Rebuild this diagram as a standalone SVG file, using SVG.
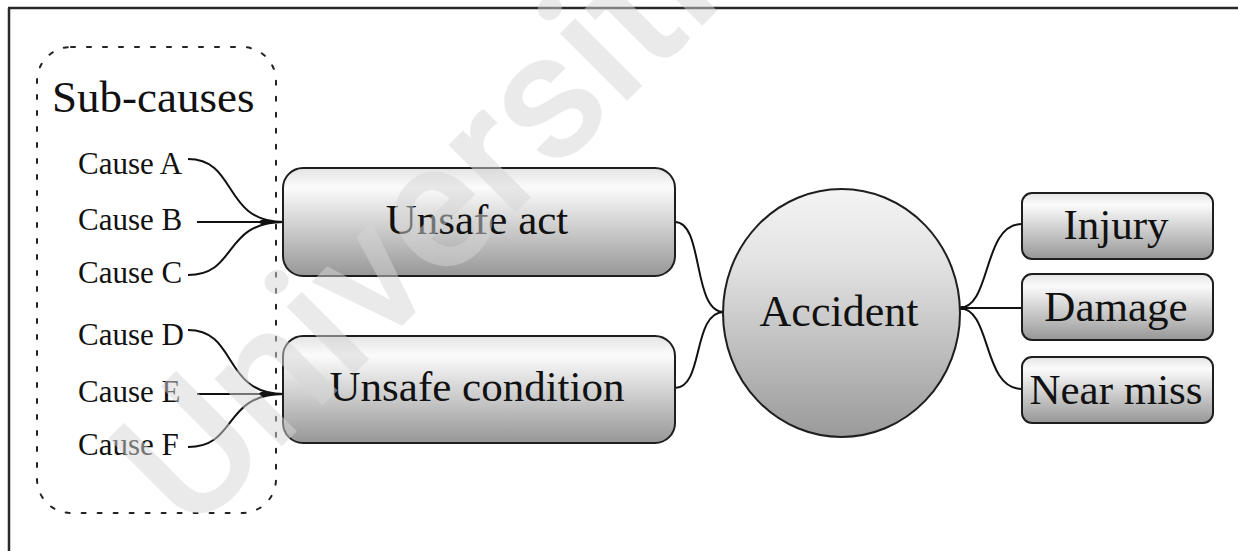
<svg xmlns="http://www.w3.org/2000/svg" width="1238" height="551" viewBox="0 0 1238 551">
  <defs>
    <linearGradient id="shade" x1="0" y1="0" x2="0" y2="1">
      <stop offset="0" stop-color="#e4e4e4"/>
      <stop offset="0.18" stop-color="#fbfbfb"/>
      <stop offset="1" stop-color="#979797"/>
    </linearGradient>
    <linearGradient id="shade-round" x1="0" y1="0" x2="0" y2="1">
      <stop offset="0" stop-color="#f4f4f4"/>
      <stop offset="0.3" stop-color="#e2e2e2"/>
      <stop offset="1" stop-color="#9a9a9a"/>
    </linearGradient>
    <style>
      .frame { stroke: #2a2a2a; stroke-width: 2.5; fill: none; }
      .group { fill: none; stroke: #222; stroke-width: 2; stroke-dasharray: 4 12; stroke-linecap: round; }
      .box { fill: url(#shade); stroke: #1e1e1e; stroke-width: 2; }
      .round { fill: url(#shade-round); stroke: #1e1e1e; stroke-width: 2; }
      .link { fill: none; stroke: #111; stroke-width: 2; }
      .knot { fill: #111; }
      .big { font-family: "Liberation Serif", "Times New Roman", serif; font-size: 43px; fill: #111; text-anchor: middle; }
      .cause { font-family: "Liberation Serif", "Times New Roman", serif; font-size: 31px; fill: #111; }
      .title { font-family: "Liberation Serif", "Times New Roman", serif; font-size: 45px; fill: #111; }
      .mark { font-family: Roboto, "Open Sans", sans-serif; font-size: 180px; font-weight: 500; fill: #d6d6d6; opacity: 0.5; }
    </style>
  </defs>

  <rect width="1238" height="551" fill="#fff"/>

  <!-- page frame: top and left rules -->
  <line class="frame" x1="8" y1="8" x2="1238" y2="8"/>
  <line class="frame" x1="9" y1="8" x2="9" y2="551"/>

  <!-- dotted grouping of the sub-causes -->
  <g id="sub-causes">
    <rect class="group" x="37" y="47" width="239" height="466" rx="34" ry="34"/>
    <text class="title" x="52" y="112">Sub-causes</text>
    <text class="cause" x="78" y="174">Cause A</text>
    <text class="cause" x="78" y="230">Cause B</text>
    <text class="cause" x="78" y="283">Cause C</text>
    <text class="cause" x="78" y="345">Cause D</text>
    <text class="cause" x="78" y="402">Cause E</text>
    <text class="cause" x="78" y="455">Cause F</text>
  </g>

  <g id="connectors">
    <path class="link" d="M188,159 C238,159 222,222 284,222"/>
    <path class="link" d="M197,222 H284"/>
    <path class="link" d="M188,275 C238,275 222,222 284,222"/>
    <ellipse class="knot" cx="265" cy="222" rx="6" ry="2.5"/>

    <path class="link" d="M188,330 C238,330 222,394 284,394"/>
    <path class="link" d="M197,394 H284"/>
    <path class="link" d="M188,447 C238,447 222,394 284,394"/>
    <ellipse class="knot" cx="265" cy="394" rx="6" ry="2.5"/>

    <path class="link" d="M675,222 C704,222 692,312 724,312"/>
    <path class="link" d="M675,388 C704,388 692,312 724,312"/>

    <path class="link" d="M959,308 C992,308 982,224 1022,224"/>
    <path class="link" d="M959,308 H1022"/>
    <path class="link" d="M959,308 C992,308 982,389 1022,389"/>
    <ellipse class="knot" cx="963" cy="308" rx="4" ry="2"/>
  </g>

  <g id="unsafe-act">
    <rect class="box" x="283" y="168" width="392" height="108" rx="20" ry="20"/>
    <text class="big" x="477" y="234">Unsafe act</text>
  </g>

  <g id="unsafe-condition">
    <rect class="box" x="283" y="336" width="392" height="107" rx="20" ry="20"/>
    <text class="big" x="477" y="401">Unsafe condition</text>
  </g>

  <g id="accident">
    <ellipse class="round" cx="841.5" cy="313" rx="118.5" ry="124"/>
    <text class="big" x="839" y="326" style="font-size:44px">Accident</text>
  </g>

  <g id="injury">
    <rect class="box" x="1022" y="193" width="191" height="66" rx="10" ry="10"/>
    <text class="big" x="1116" y="239">Injury</text>
  </g>

  <g id="damage">
    <rect class="box" x="1022" y="274" width="191" height="66" rx="10" ry="10"/>
    <text class="big" x="1116" y="321">Damage</text>
  </g>

  <g id="near-miss">
    <rect class="box" x="1022" y="357" width="191" height="66" rx="10" ry="10"/>
    <text class="big" x="1116" y="404">Near miss</text>
  </g>

  <!-- diagonal watermark, running off the top edge -->
  <text class="mark" x="191" y="537" transform="rotate(-45 191 537)">Universiti</text>
</svg>
